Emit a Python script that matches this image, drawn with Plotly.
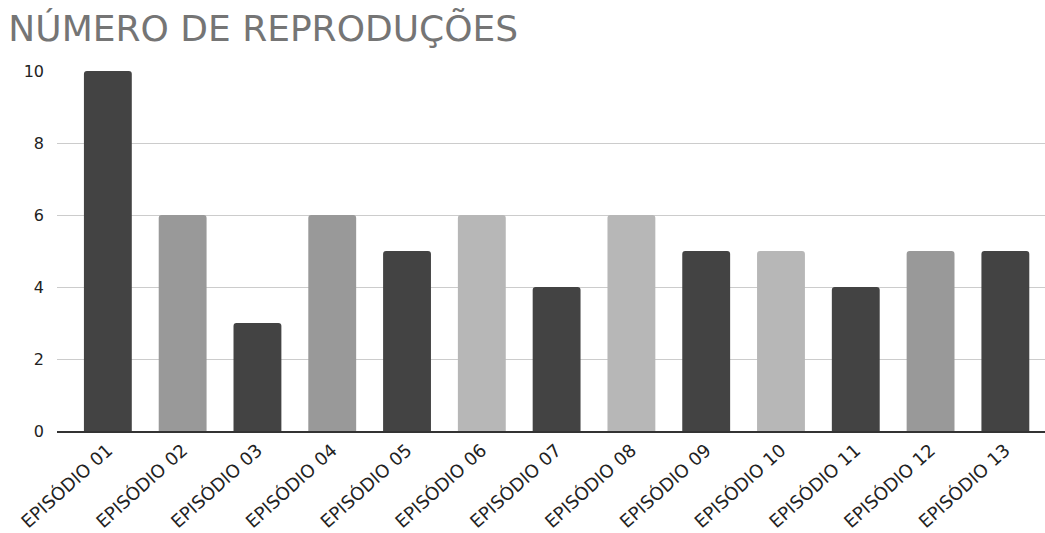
import plotly.graph_objects as go

categories = ["EPISÓDIO 01", "EPISÓDIO 02", "EPISÓDIO 03", "EPISÓDIO 04", "EPISÓDIO 05",
              "EPISÓDIO 06", "EPISÓDIO 07", "EPISÓDIO 08", "EPISÓDIO 09", "EPISÓDIO 10",
              "EPISÓDIO 11", "EPISÓDIO 12", "EPISÓDIO 13"]
values = [10, 6, 3, 6, 5, 6, 4, 6, 5, 5, 4, 5, 5]
bar_colors = ["#434343", "#999999", "#434343", "#999999", "#434343", "#b7b7b7", "#434343",
              "#b7b7b7", "#434343", "#b7b7b7", "#434343", "#999999", "#434343"]
y_ticks = [0, 2, 4, 6, 8, 10]

fig = go.Figure(go.Bar(
    x=list(range(len(categories))), y=values,
    marker=dict(color=bar_colors, line=dict(width=0), cornerradius=3),
    width=0.64,
))

fig.update_layout(
    width=1045, height=533,
    margin=dict(l=57, r=0, t=71, b=102),
    paper_bgcolor="white", plot_bgcolor="white",
    font=dict(family="DejaVu Sans, sans-serif", size=16, color="#222222"),
    title=dict(text="NÚMERO DE REPRODUÇÕES", x=0.008, xanchor="left", y=0.946, yanchor="middle",
               font=dict(size=36, color="#757575")),
    showlegend=False,
)
fig.update_xaxes(
    tickmode="array", tickvals=list(range(len(categories))), ticktext=categories,
    tickangle=-42, range=[-0.68, 12.53], showgrid=False,
    showline=True, linecolor="#333333", linewidth=1.5, ticks="",
    tickfont=dict(size=18, color="#222222"),
)
fig.update_yaxes(
    range=[0, 10], tickvals=y_ticks, showgrid=True, gridcolor="#cccccc", gridwidth=1,
    zeroline=False, ticks="", ticklen=0, tickfont=dict(size=16, color="#222222"),
    ticklabelstandoff=12,
)

fig.write_html("out.html")
